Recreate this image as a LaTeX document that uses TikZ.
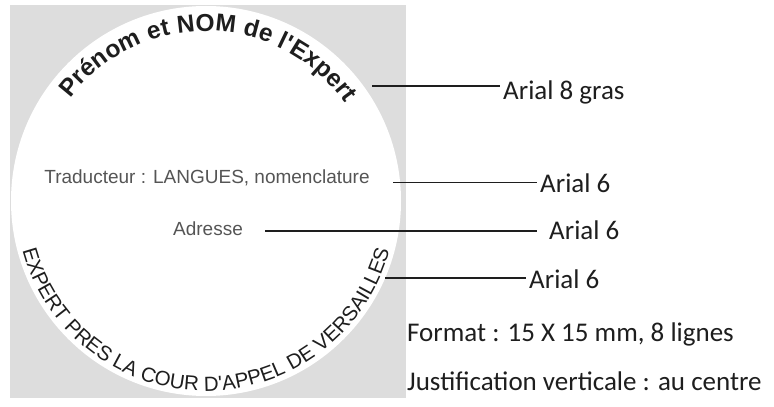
\documentclass[tikz,border=0pt]{standalone}
\usepackage{fontspec}
\setmainfont{Carlito}
\newfontfamily\arialfont{Liberation Sans}
\usetikzlibrary{decorations.text}
\definecolor{bggray}{RGB}{221,221,221}
\definecolor{ink}{RGB}{30,30,30}
\definecolor{midgray}{RGB}{85,85,85}
\begin{document}
\begin{tikzpicture}[x=1pt,y=1pt,
  lbl/.style={anchor=base west, inner sep=3pt, text=ink, font=\fontsize{27}{27}\selectfont},
  lead/.style={draw=ink, line width=1.3pt},
  thinlead/.style={draw=ink, line width=0.7pt},
  innertext/.style={text=midgray, inner sep=0pt, font=\arialfont\fontsize{19}{19}\selectfont}]
\useasboundingbox (0,0) rectangle (774,407);
\fill[bggray] (10,9) rectangle (406,402);
\fill[white] (206,206) circle (195);
\path[decorate, decoration={text along path, text align=fit to path,
  text={|\arialfont\bfseries\fontsize{24.5}{24.5}\selectfont\color{ink}|Prénom et NOM de l'Expert}}]
  (206,206) ++(143:170) arc (143:35:170);
\path[decorate, decoration={text along path, text align=fit to path,
  text={|\arialfont\fontsize{20.5}{20.5}\selectfont\color{ink}|EXPERT PRES LA COUR D'APPEL DE VERSAILLES}}]
  (206,206) ++(195:190) arc (195:345:190);
\node[innertext] (trad) at (207,229) {Traducteur : LANGUES, nomenclature};
\node[innertext] (adr) at (208,178) {Adresse};
\node[lbl] (l1) at (500,307) {Arial 8 gras};
\node[lbl] (l2) at (537,214) {Arial 6};
\node[lbl] (l3) at (546,167) {Arial 6};
\node[lbl] (l4) at (526,118) {Arial 6};
\node[lbl] (fmt) at (404,65) {Format : 15 X 15 mm, 8 lignes};
\node[lbl] (just) at (404,16) {Justification verticale : au centre};
\coordinate (s1) at (372,321);
\coordinate (s2) at (393,225);
\coordinate (s3) at (265,176);
\coordinate (s4) at (385,129);
\draw[lead] (s1) -- (s1 -| l1.west);
\draw[thinlead] (s2) -- (s2 -| l2.west);
\draw[lead] (s3) -- ([xshift=-9pt]l3.west |- s3);
\draw[lead] (s4) -- (s4 -| l4.west);
\end{tikzpicture}
\end{document}
